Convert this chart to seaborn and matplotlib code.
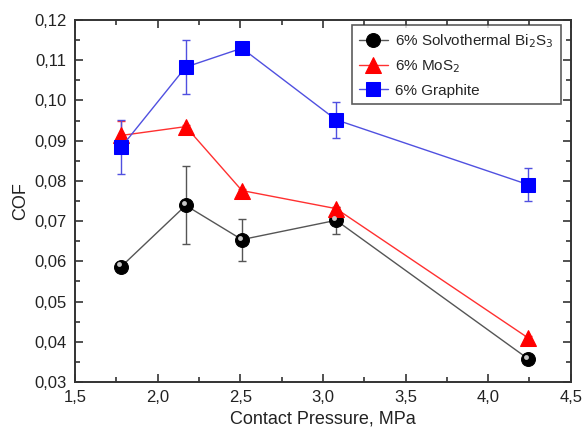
import matplotlib
matplotlib.use("Agg")
import matplotlib.pyplot as plt
import matplotlib.ticker as mticker
import matplotlib.transforms as mtransforms
import seaborn as sns
import pandas as pd
import numpy as np

pressure = [1.78, 2.17, 2.51, 3.08, 4.24]
bi2s3 = [0.0587, 0.0739, 0.0654, 0.0702, 0.0358]
bi2s3_err = [0.0005, 0.0097, 0.0052, 0.0033, 0.0005]
mos2 = [0.0913, 0.0935, 0.0776, 0.0731, 0.0410]
mos2_err = [0.0035, 0.0005, 0.0005, 0.0005, 0.0005]
graphite = [0.0884, 0.1083, 0.1130, 0.0952, 0.0791]
graphite_err = [0.0068, 0.0067, 0.0008, 0.0045, 0.0041]

labels = ["6% Solvothermal Bi$_2$S$_3$", "6% MoS$_2$", "6% Graphite"]

sns.set_theme(style="ticks")
plt.rcParams["font.family"] = ["Liberation Sans", "DejaVu Sans"]

df = pd.concat([
    pd.DataFrame({"x": pressure, "y": bi2s3, "s": labels[0]}),
    pd.DataFrame({"x": pressure, "y": mos2, "s": labels[1]}),
    pd.DataFrame({"x": pressure, "y": graphite, "s": labels[2]}),
])

fig = plt.figure(figsize=(5.86, 4.36), dpi=100)
ax = fig.add_axes([0.128, 0.124, 0.846, 0.830])

line_colors = {labels[0]: "#555555", labels[1]: "#ff3030", labels[2]: "#5050e0"}
mk_colors = {labels[0]: "black", labels[1]: "#ff0000", labels[2]: "#0000ff"}
markers = {labels[0]: "o", labels[1]: "^", labels[2]: "s"}
msizes = {labels[0]: 10, labels[1]: 11, labels[2]: 9.5}
errs = {labels[0]: bi2s3_err, labels[1]: mos2_err, labels[2]: graphite_err}
ys = {labels[0]: bi2s3, labels[1]: mos2, labels[2]: graphite}

for lab in labels:
    sub = df[df["s"] == lab]
    ax.errorbar(pressure, ys[lab], yerr=errs[lab], fmt="none",
                ecolor=line_colors[lab], elinewidth=1, capsize=3, capthick=1, zorder=2)
    sns.lineplot(data=sub, x="x", y="y", ax=ax, color=line_colors[lab], lw=1,
                 marker=markers[lab], markersize=msizes[lab],
                 markerfacecolor=mk_colors[lab], markeredgecolor=mk_colors[lab],
                 label=lab, zorder=3)

# highlight on the spheres (offset up-left)
hl = mtransforms.offset_copy(ax.transData, fig=fig, x=-1.5, y=1.5, units="points")
ax.plot(pressure, bi2s3, ls="none", marker="o", markersize=3.5, transform=hl,
        markerfacecolor="#c8c8c8", markeredgecolor="none", zorder=4)

ax.set_xlim(1.5, 4.5)
ax.set_ylim(0.03, 0.12)
ax.xaxis.set_major_locator(mticker.MultipleLocator(0.5))
ax.xaxis.set_minor_locator(mticker.MultipleLocator(0.25))
ax.yaxis.set_major_locator(mticker.MultipleLocator(0.01))
ax.yaxis.set_minor_locator(mticker.MultipleLocator(0.005))
ax.xaxis.set_major_formatter(mticker.FuncFormatter(lambda v, p: f"{v:.1f}".replace(".", ",")))
ax.yaxis.set_major_formatter(mticker.FuncFormatter(lambda v, p: f"{v:.2f}".replace(".", ",")))
ax.tick_params(which="both", direction="in", top=True, right=True, color="#333333")
ax.tick_params(which="major", length=6, width=1.2, labelsize=12, pad=6, labelcolor="#222222")
ax.tick_params(which="minor", length=3.5, width=1.2)
for sp in ax.spines.values():
    sp.set_linewidth(1.4)
    sp.set_color("#333333")

ax.set_xlabel("Contact Pressure, MPa", fontsize=13, color="#222222")
ax.set_ylabel("COF", fontsize=13, color="#222222")

leg = ax.legend(loc="upper right", fontsize=11, frameon=True, fancybox=False,
                edgecolor="#333333", handlelength=1.9, labelspacing=0.55,
                borderaxespad=0.0, handletextpad=0.5, borderpad=0.45,
                bbox_to_anchor=(0.98, 0.985))
leg.get_frame().set_linewidth(1.2)

fig.savefig("out.png", dpi=100)
